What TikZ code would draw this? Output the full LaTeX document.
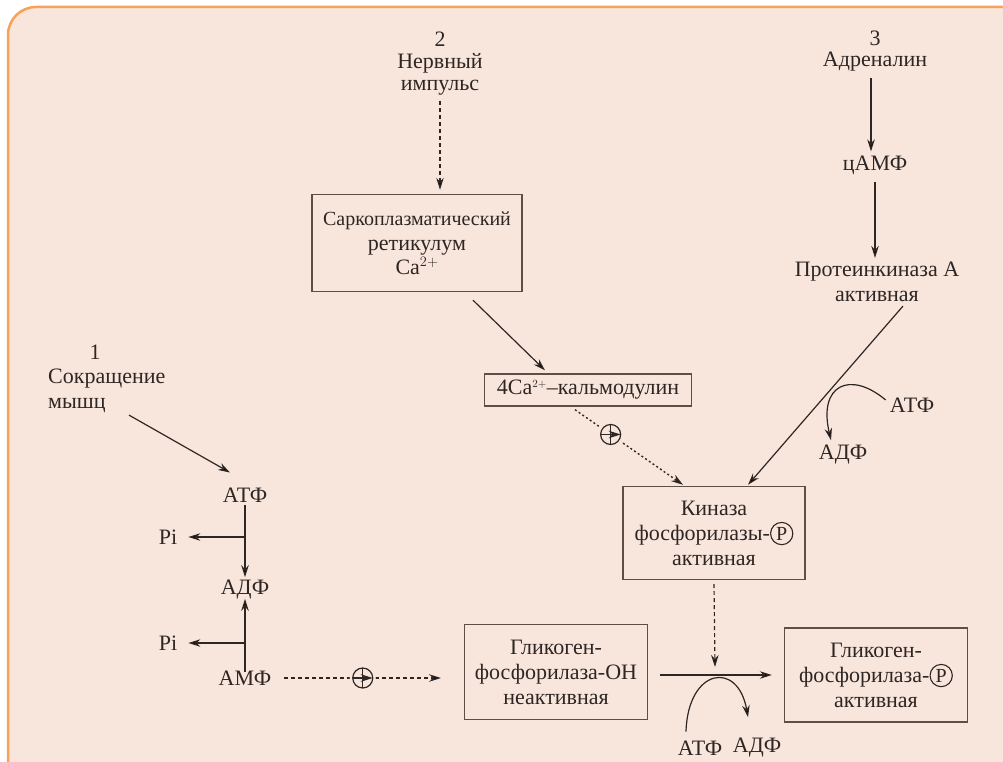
\documentclass[tikz,border=0pt]{standalone}
\usepackage{fontspec}
\setmainfont{Liberation Serif}
\usetikzlibrary{arrows.meta}
\definecolor{bg}{HTML}{F8E6DC}
\definecolor{frame}{HTML}{F6A259}
\definecolor{ink}{HTML}{2E2624}
\definecolor{boxc}{HTML}{5E4E48}
% phosphate group: a P in a circle
\newcommand\circP{\tikz[baseline=(cp.base)]\node[draw=ink,circle,inner sep=1.8pt,minimum width=0pt,minimum height=0pt,line width=1.1pt,text=ink,align=center,font=\fontsize{20}{20}\selectfont](cp){P};}

\begin{document}
\begin{tikzpicture}[x=1pt,y=-1pt,
  txt/.style={font=\fontsize{22}{25}\selectfont, text=ink, align=center, inner sep=1pt},
  box/.style={txt, draw=boxc, line width=1.4pt},
  arr/.style={draw=ink, line width=1.2pt, -{Stealth[length=12pt,width=7.5pt]}},
  dsh/.style={arr, dash pattern=on 4pt off 3pt},
  dotl/.style={arr, line width=1.4pt, dash pattern=on 2pt off 2.5pt},
  plus/.style={solid, circle, draw=ink, line width=1.2pt, minimum size=20pt, inner sep=0pt,
    fill=bg, preaction={draw=bg, line width=6pt},
    path picture={\draw[ink, solid, line width=1.2pt]
      (path picture bounding box.north) -- (path picture bounding box.south)
      (path picture bounding box.west) -- (path picture bounding box.east);}},
]
\useasboundingbox (0,0) rectangle (1003,762);
\begin{scope}
  \clip (0,0) rectangle (1003,762);
  \fill[white] (0,0) rectangle (1003,762);
  \draw[frame, fill=bg, line width=2.5pt, rounded corners=28pt] (8,7) rectangle (1030,800);
\end{scope}

% inputs
\node[txt, font=\fontsize{22}{22}\selectfont] (nerv) at (440,64) {2\\Нервный\\импульс};
\node[txt, font=\fontsize{22}{21}\selectfont] (adr) at (875,51) {3\\Адреналин};
\node[txt] (n1) at (95,352) {1};
\node[txt, anchor=west, align=left] (musc) at (47,391) {Сокращение\\мышц};

% boxes
\node[box, minimum width=210pt, minimum height=97pt] (sarco) at (417,243)
  {{\fontsize{20}{25}\selectfont Саркоплазматический}\\ретикулум\\[-1pt]Ca$^{2+}$};
\node[box, minimum width=207pt, minimum height=32pt] (calm) at (588,390)
  {4Ca$^{\scriptscriptstyle 2+}$–кальмодулин};
\node[box, minimum width=182pt, minimum height=93pt] (kin) at (714,533)
  {Киназа\\фосфорилазы-\circP\\активная};
\node[box, minimum width=183pt, minimum height=95pt] (gly1) at (556,672)
  {Гликоген-\\фосфорилаза-ОН\\неактивная};
\node[box, minimum width=183pt, minimum height=94pt] (gly2) at (876,675)
  {Гликоген-\\фосфорилаза-\circP\\активная};

% plain labels
\node[txt] (camp) at (875,165) {цАМФ};
\node[txt] (pka) at (877,282) {Протеинкиназа А\\активная};
\node[txt] (atp1) at (912,405) {АТФ};
\node[txt] (adp1) at (843,455) {АДФ};
\node[txt] (atpL) at (245,495) {АТФ};
\node[txt] (adpL) at (245,590) {АДФ};
\node[txt] (ampL) at (245,678) {АМФ};
\node[txt] (pi1) at (168,537) {Pi};
\node[txt] (pi2) at (168,643) {Pi};
\node[txt] (atp2) at (700,748) {АТФ};
\node[txt] (adp2) at (757,748) {АДФ};

% junctions and free ends
\coordinate (b1) at (245,537);
\coordinate (b2) at (245,643);
\coordinate (rxn) at (715,667);
\coordinate (g1in) at (441,678);

% nerve impulse pathway
\draw[dsh] ([yshift=-4pt]nerv.south) -- ([xshift=23pt,yshift=4pt]sarco.north);
\draw[arr] ([xshift=56pt,yshift=-8pt]sarco.south) -- ([xshift=-43pt,yshift=3pt]calm.north);
\draw[dotl] ([xshift=-13pt,yshift=-3pt]calm.south) -- node[plus, pos=0.33] {} ([xshift=-31pt,yshift=1pt]kin.north);

% adrenaline pathway
\draw[arr] ([xshift=-4pt,yshift=-6pt]adr.south) -- ([xshift=-4pt,yshift=3pt]camp.north);
\draw[arr] ([yshift=-6pt]camp.south) -- ([xshift=-2pt,yshift=3pt]pka.north);
\draw[arr] ([xshift=26pt,yshift=-3pt]pka.south) -- ([xshift=34pt,yshift=1pt]kin.north);
\draw[arr] ([xshift=-3pt,yshift=5pt]atp1.west) .. controls (850,370) and (818,385) .. ([xshift=-12pt,yshift=4pt]adp1.north);

% muscle contraction pathway
\draw[arr] ([xshift=82pt,yshift=-1pt]musc.south west) -- ([xshift=-15pt,yshift=14pt]atpL.north);
\draw[arr] ([yshift=-2pt]atpL.south) -- ([yshift=2pt]adpL.north);
\draw[arr] (b1) -- ([xshift=10pt]pi1.east);
\draw[arr] ([yshift=-2pt]ampL.north) -- ([yshift=2pt]adpL.south);
\draw[arr] (b2) -- ([xshift=10pt]pi2.east);
\draw[dsh] ([xshift=12pt]ampL.east) -- node[plus] {} (g1in);

% phosphorylation of glycogen phosphorylase
\draw[dsh] ([yshift=-4pt]kin.south) -- (rxn);
\draw[arr] ([xshift=12pt,yshift=-3pt]gly1.east) -- ([xshift=-12pt]gly2.west);
\draw[arr] ([xshift=-14pt,yshift=8pt]atp2.north) .. controls (688,668) and (738,660) .. ([xshift=-9pt,yshift=20pt]adp2.north);
\end{tikzpicture}
\end{document}
